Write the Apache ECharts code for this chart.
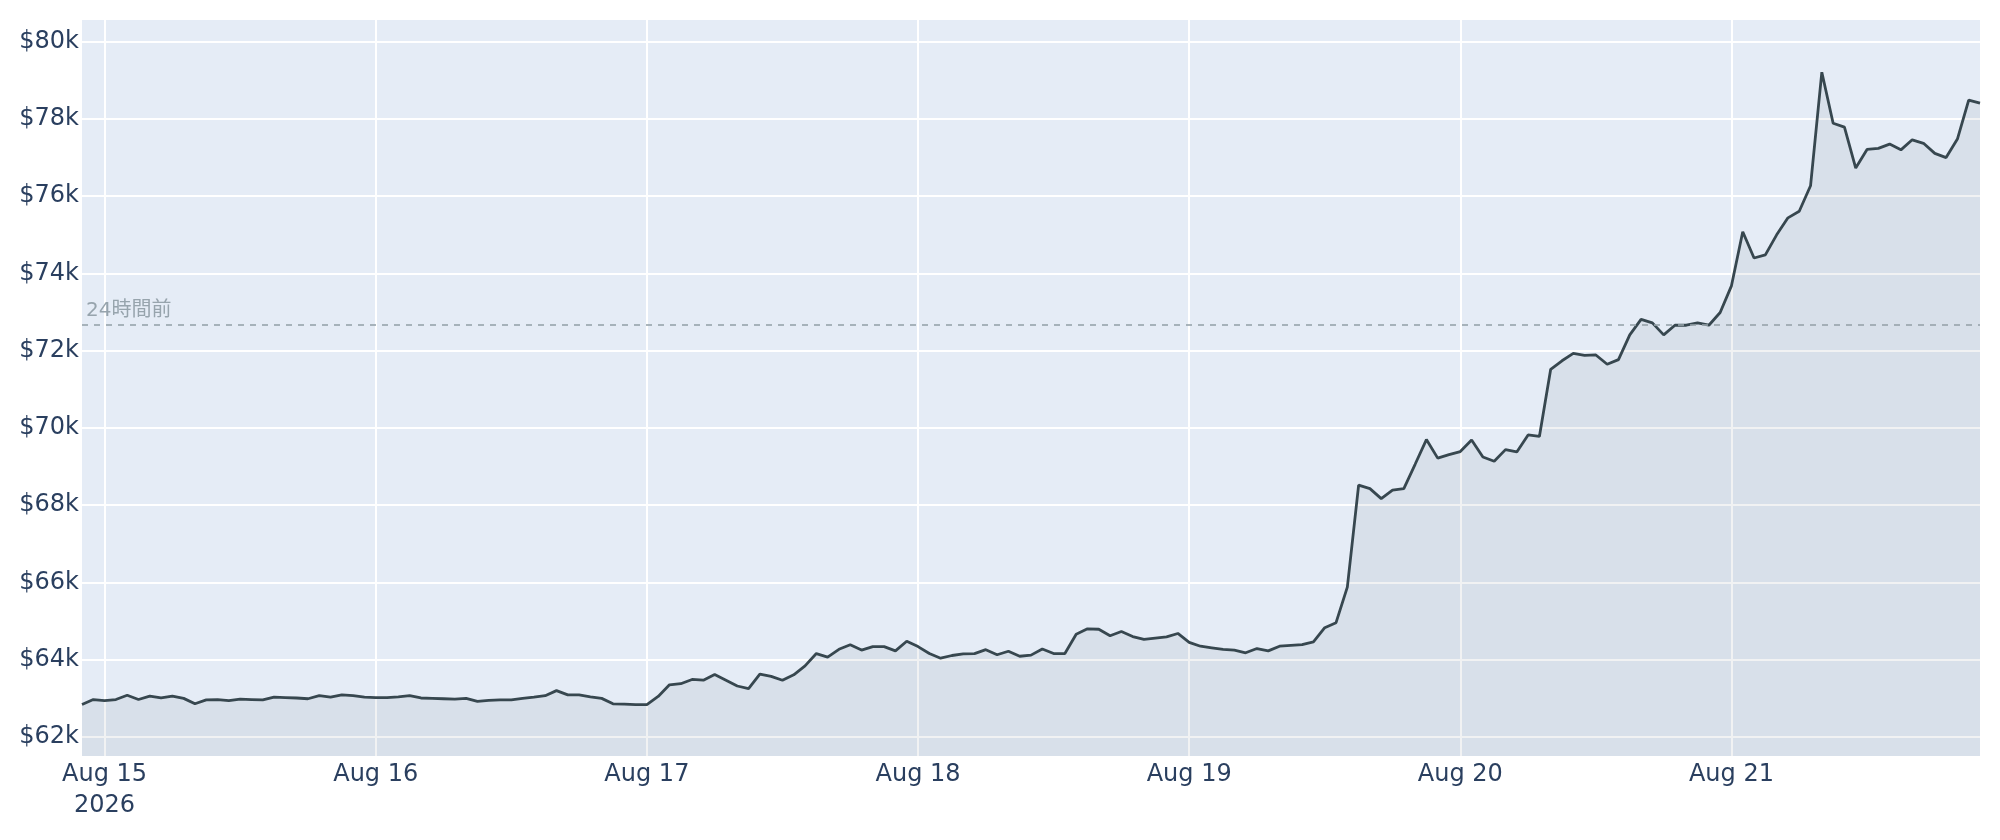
<!DOCTYPE html>
<html>
<head>
<meta charset="utf-8">
<title>Price chart</title>
<script src="https://cdn.jsdelivr.net/npm/echarts@6/dist/echarts.min.js"></script>
<style>
  html, body { margin: 0; padding: 0; background: #fff; }
  #chart { width: 2000px; height: 840px; }
</style>
</head>
<body>
<div id="chart"></div>
<script>
// hourly prices, first point 2026-08-14 22:00, last 2026-08-21 22:00
const startTime = Date.UTC(2026, 7, 14, 22);
const hourMs = 3600 * 1000;

const prices = [
  // Aug 14 22-23h
  62840, 62970,
  // Aug 15
  62940, 62970, 63080, 62970, 63060, 63010, 63060, 63000, 62860, 62960, 62970, 62940,
  62980, 62970, 62960, 63030, 63020, 63010, 62990, 63070, 63030, 63090, 63070, 63030,
  // Aug 16
  63020, 63020, 63040, 63070, 63010, 63000, 62990, 62980, 63000, 62920, 62950, 62960,
  62960, 63000, 63030, 63070, 63200, 63090, 63090, 63040, 63000, 62860, 62850, 62840,
  // Aug 17
  62840, 63050, 63350, 63380, 63490, 63470, 63620, 63470, 63320, 63250, 63630, 63570,
  63470, 63610, 63840, 64160, 64070, 64270, 64390, 64250, 64340, 64340, 64230, 64480,
  // Aug 18
  64340, 64160, 64040, 64110, 64150, 64160, 64260, 64130, 64220, 64090, 64120, 64280,
  64160, 64160, 64660, 64800, 64790, 64620, 64730, 64600, 64530, 64560, 64590, 64680,
  // Aug 19
  64450, 64350, 64310, 64270, 64250, 64180, 64290, 64230, 64350, 64370, 64390, 64460,
  64830, 64960, 65880, 68520, 68430, 68170, 68390, 68430, 69060, 69700, 69220, 69310,
  // Aug 20
  69390, 69690, 69250, 69140, 69440, 69380, 69820, 69780, 71520, 71740, 71930, 71880,
  71890, 71650, 71770, 72410, 72810, 72720, 72410, 72660, 72660, 72720, 72660, 72990,
  // Aug 21 00-22h
  73680, 75080, 74400, 74480, 75000, 75440, 75610, 76270, 79210, 77890, 77790, 76730,
  77210, 77240, 77350, 77200, 77460, 77370, 77110, 77000, 77480, 78490, 78410
];

const price24hAgo = 72660;
const refLabel = "24時間前";
const yMin = 61508;
const yMax = 80562;
const monthNames = ["Jan", "Feb", "Mar", "Apr", "May", "Jun", "Jul", "Aug", "Sep", "Oct", "Nov", "Dec"];

const times = prices.map((p, i) => new Date(startTime + i * hourMs).toISOString());

function isMidnight(index, value) {
  return new Date(value).getUTCHours() === 0;
}

const chart = echarts.init(document.getElementById("chart"));
const option = {
  animation: false,
  textStyle: { fontFamily: "DejaVu Sans, Noto Sans CJK JP, sans-serif" },
  grid: {
    left: 82,
    right: 20,
    top: 20,
    bottom: 84,
    show: true,
    backgroundColor: "#e5ecf6",
    borderWidth: 0
  },
  xAxis: {
    type: "category",
    data: times,
    boundaryGap: false,
    axisLine: { show: false },
    axisTick: { show: false },
    splitLine: {
      show: true,
      interval: isMidnight,
      lineStyle: { color: "#ffffff", width: 2 }
    },
    axisLabel: {
      interval: isMidnight,
      color: "#2a3f5f",
      fontSize: 24,
      lineHeight: 31,
      margin: 3,
      formatter: function(value) {
        const d = new Date(value);
        let s = monthNames[d.getUTCMonth()] + " " + d.getUTCDate();
        if (d.getUTCDate() === 15) {
          s += "\n" + d.getUTCFullYear();
        }
        return s;
      }
    }
  },
  yAxis: {
    type: "value",
    min: yMin,
    max: yMax,
    splitNumber: 10,
    minInterval: 2000,
    maxInterval: 2000,
    axisLine: { show: false },
    axisTick: { show: false },
    splitLine: {
      show: true,
      showMinLine: false,
      showMaxLine: false,
      lineStyle: { color: "#ffffff", width: 2 }
    },
    axisLabel: {
      showMinLabel: false,
      showMaxLabel: false,
      color: "#2a3f5f",
      fontSize: 24,
      margin: 3,
      formatter: function(v) {
        return "$" + Math.round(v / 1000) + "k";
      }
    }
  },
  series: [
    {
      type: "line",
      data: prices,
      showSymbol: false,
      lineStyle: { color: "#37474f", width: 2.8 },
      areaStyle: { color: "rgba(55,71,79,0.1)", origin: "start" },
      markLine: {
        silent: true,
        symbol: "none",
        lineStyle: { color: "#97a3ab", type: [6, 6], width: 1.6 },
        label: {
          show: true,
          position: "insideStartTop",
          formatter: refLabel,
          color: "#97a4ad",
          fontSize: 20,
          distance: [4, 4]
        },
        data: [{ yAxis: price24hAgo }]
      }
    }
  ]
};
chart.setOption(option);
</script>
</body>
</html>
